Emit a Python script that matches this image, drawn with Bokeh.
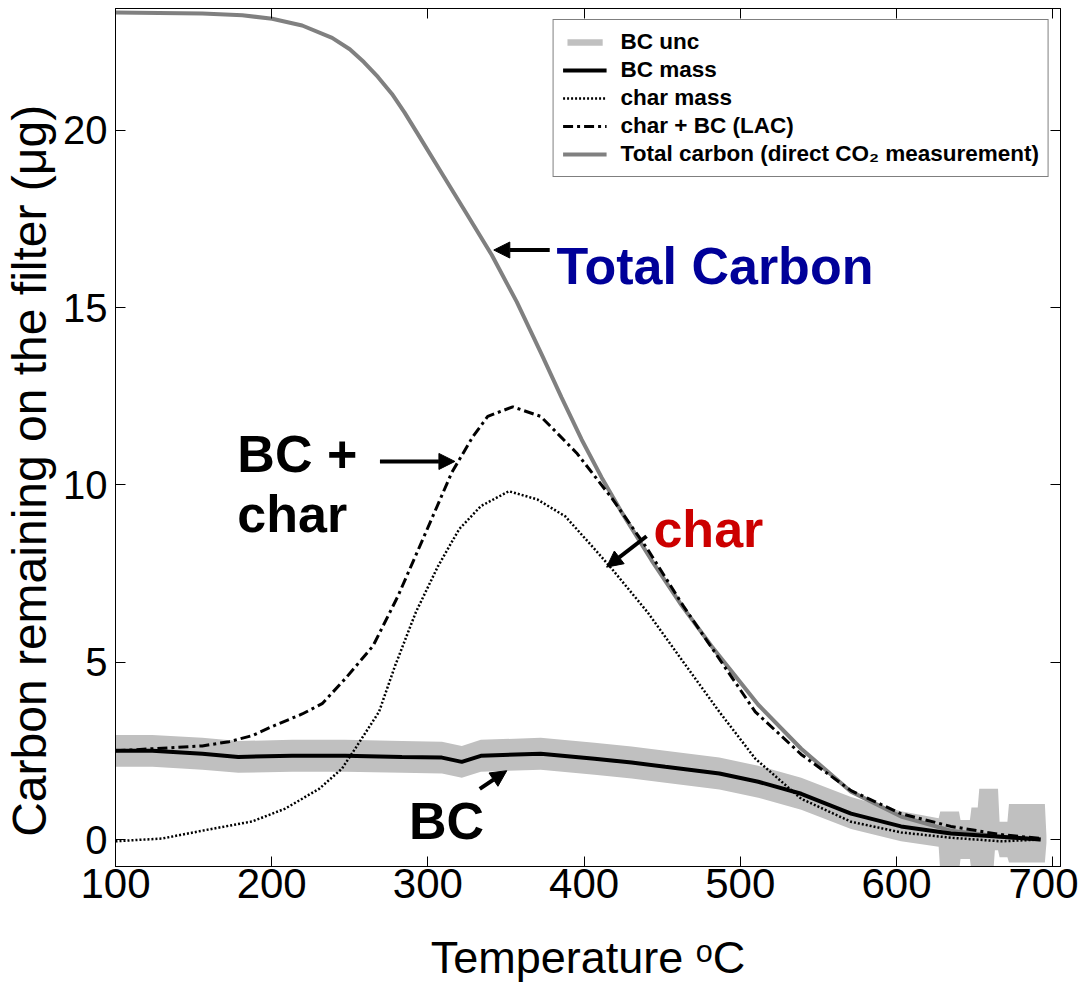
from bokeh.plotting import figure
from bokeh.models import (Range1d, LinearAxis, Legend, LegendItem, Label, Arrow,
                          NormalHead, FixedTicker)
from bokeh.embed import file_html
from bokeh.resources import INLINE

# ---------------- data ----------------
x_ticks = [100, 200, 300, 400, 500, 600, 700]
y_ticks = [0, 5, 10, 15, 20]

temp_total = [100, 155.6, 181.2, 200.3, 219.5, 238.7, 250.0, 259.0, 268.0, 277.0, 285.0,
              293.0, 309.0, 325.0, 340.9, 356.9, 372.9, 385.6, 398.4, 411.2, 424.0,
              443.1, 462.3, 481.5, 511.5, 539.0, 570.9, 602.9, 634.8, 666.8, 692.3]
total_carbon = [23.32, 23.29, 23.24, 23.14, 22.95, 22.6, 22.28, 21.92, 21.5, 21.02, 20.5,
                19.93, 18.78, 17.63, 16.48, 15.16, 13.67, 12.46, 11.28, 10.21, 9.23,
                7.88, 6.61, 5.46, 3.80, 2.56, 1.35, 0.65, 0.25, 0.08, 0.0]

temp_char = [100, 130, 155.6, 187.5, 208.6, 230.4, 245, 253.4, 268.7, 279, 292.3,
             306.4, 320, 333.9, 351.8, 370, 388, 406.7, 418, 440.6, 463.6, 486.6,
             509.6, 539, 571, 603, 635, 667, 692]
char_mass = [-0.05, 0.03, 0.25, 0.51, 0.87, 1.43, 2.0, 2.56, 3.6, 4.9, 6.41,
             7.7, 8.75, 9.4, 9.82, 9.59, 9.11, 8.19, 7.62, 6.41, 5.0, 3.6,
             2.28, 1.15, 0.5, 0.2, 0.05, -0.05, 0.0]

temp_lac = [100, 123.6, 155.6, 172.8, 187.5, 201.0, 219.5, 232.3, 247.0, 264.9,
            280.8, 296.8, 315.3, 328.8, 338.3, 354.3, 372.2, 395.2, 418.2, 440.6,
            463.6, 486.6, 509.6, 539.0, 570.9, 602.9, 634.8, 666.8, 692.3]
lac_mass = [2.5, 2.56, 2.64, 2.76, 2.93, 3.2, 3.54, 3.83, 4.53, 5.46,
            6.86, 8.47, 10.35, 11.36, 11.93, 12.2, 11.93, 10.9, 9.6, 8.19,
            6.58, 5.09, 3.6, 2.4, 1.38, 0.73, 0.37, 0.14, 0.03]

temp_bc = [100, 123.6, 155.6, 178.6, 213.1, 247.0, 283.4, 309.0, 321.7, 333.9,
           372.2, 406.7, 430.4, 452.0, 486.6, 511.5, 539.0, 570.9, 602.9, 634.8,
           666.8, 692.3]
bc_mass = [2.5, 2.5, 2.42, 2.33, 2.36, 2.36, 2.33, 2.31, 2.19, 2.36,
           2.42, 2.28, 2.17, 2.05, 1.86, 1.63, 1.29, 0.73, 0.37, 0.17,
           0.08, 0.0]

temp_unc = [100, 123.6, 155.6, 178.6, 213.1, 247.0, 283.4, 309.0, 321.7, 333.9,
            372.2, 406.7, 430.4, 452.0, 486.6, 511.5, 539.0, 570.9, 602.9, 627,
            628, 640, 641, 647, 648, 652, 653, 662, 663, 665,
            666, 671, 672, 695, 696]
unc_low = [2.05, 2.05, 1.97, 1.88, 1.91, 1.91, 1.88, 1.86, 1.74, 1.91,
           1.97, 1.83, 1.72, 1.6, 1.41, 1.18, 0.84, 0.3, -0.05, -0.2,
           -0.9, -0.9, -0.55, -0.55, -0.9, -0.9, -0.9, -0.9, -0.3, -0.3,
           -0.5, -0.5, -0.65, -0.65, -0.1]
unc_high = [2.95, 2.95, 2.87, 2.78, 2.81, 2.81, 2.78, 2.76, 2.64, 2.81,
            2.87, 2.73, 2.62, 2.5, 2.31, 2.08, 1.74, 1.2, 0.8, 0.6,
            0.79, 0.79, 0.55, 0.55, 0.9, 0.9, 1.43, 1.43, 1.43, 1.43,
            0.5, 0.5, 1.0, 1.0, 0.1]

series_labels = ["BC unc", "BC mass", "char mass", "char + BC (LAC)",
                 "Total carbon (direct CO\u2082 measurement)"]

# ---------------- figure ----------------
FONT = "Liberation Sans"

p = figure(width=1078, height=985, x_range=Range1d(100, 705), y_range=Range1d(-0.76, 23.43),
           output_backend="svg", toolbar_location=None,
           min_border_left=113, min_border_right=18, min_border_top=8, min_border_bottom=117)
p.xgrid.visible = False
p.ygrid.visible = False
p.outline_line_color = "black"
p.background_fill_color = "white"
p.border_fill_color = "white"

for ax in (p.xaxis[0], p.yaxis[0]):
    ax.major_tick_in = 10
    ax.major_tick_out = 0
    ax.minor_tick_in = 0
    ax.minor_tick_out = 0
    ax.axis_line_color = "black"
    ax.major_tick_line_color = "black"
    ax.major_label_text_color = "black"
    ax.axis_label_text_color = "black"
    ax.axis_label_text_font_style = "normal"

p.xaxis.ticker = FixedTicker(ticks=x_ticks)
p.yaxis.ticker = FixedTicker(ticks=y_ticks)
p.xaxis.major_label_text_font = FONT
p.xaxis.major_label_text_font_size = "42px"
p.xaxis.major_label_standoff = 2
p.xaxis.axis_label = "Temperature \u1d52C"
p.xaxis.axis_label_text_font = "Liberation Sans, DejaVu Sans"
p.xaxis.axis_label_text_font_size = "45px"
p.xaxis.axis_label_standoff = 31

p.yaxis.major_label_text_font = FONT
p.yaxis.major_label_text_font_size = "40px"
p.yaxis.major_label_standoff = 8
p.yaxis.axis_label = "Carbon remaining on the filter (\u03bcg)" + "\u00a0" * 5
p.yaxis.axis_label_text_font = FONT
p.yaxis.axis_label_text_font_size = "48px"
p.yaxis.axis_label_standoff = 4

top = LinearAxis(ticker=FixedTicker(ticks=x_ticks), major_tick_in=10, major_tick_out=0,
                 minor_tick_in=0, minor_tick_out=0, major_label_text_font_size="0px",
                 major_label_text_color=None, major_label_standoff=0, axis_label_standoff=0)
right = LinearAxis(ticker=FixedTicker(ticks=y_ticks), major_tick_in=10, major_tick_out=0,
                   minor_tick_in=0, minor_tick_out=0, major_label_text_font_size="0px",
                   major_label_text_color=None, major_label_standoff=0, axis_label_standoff=0)
p.add_layout(top, "above")
p.add_layout(right, "right")

# ---------------- series ----------------
band = p.varea(x=temp_unc, y1=unc_low, y2=unc_high, fill_color="#c0c0c0", fill_alpha=1.0)
tot = p.line(x=temp_total, y=total_carbon, line_color="#808080", line_width=4)
chr_ = p.line(x=temp_char, y=char_mass, line_color="black", line_width=2.5, line_dash="2 2")
lac = p.line(x=temp_lac, y=lac_mass, line_color="black", line_width=3, line_dash="10 4 3 4")
bc = p.line(x=temp_bc, y=bc_mass, line_color="black", line_width=4)

legend = Legend(items=[
    LegendItem(label=series_labels[0], renderers=[band]),
    LegendItem(label=series_labels[1], renderers=[bc]),
    LegendItem(label=series_labels[2], renderers=[chr_]),
    LegendItem(label=series_labels[3], renderers=[lac]),
    LegendItem(label=series_labels[4], renderers=[tot]),
], location="top_right", margin=11)
legend.label_text_font = FONT
legend.label_text_font_size = "22.5px"
legend.label_text_font_style = "bold"
legend.label_text_color = "black"
legend.glyph_width = 44
legend.glyph_height = 8
legend.label_height = 20
legend.spacing = 2
legend.padding = 9
legend.label_standoff = 14
legend.border_line_color = "black"
legend.border_line_width = 1
legend.background_fill_alpha = 1.0
p.add_layout(legend)

# ---------------- annotations ----------------
def lab(x, y, text, color):
    p.add_layout(Label(x=x, y=y, text=text, text_font=FONT, text_font_size="52px",
                       text_font_style="bold", text_color=color, text_baseline="alphabetic"))

def arr(x0, y0, x1, y1):
    p.add_layout(Arrow(end=NormalHead(size=16, fill_color="black", line_color="black"),
                       x_start=x0, y_start=y0, x_end=x1, y_end=y1,
                       line_color="black", line_width=4))

lab(382.4, 16.17, "Total Carbon", "#000099")
arr(378.0, 16.62, 342.2, 16.62)
lab(178.0, 10.86, "BC +", "black")
lab(178.0, 9.17, "char", "black")
arr(269.3, 10.66, 317.3, 10.66)
lab(444.4, 8.75, "char", "#cc0000")
arr(440.0, 8.55, 414.4, 7.68)
lab(287.9, 0.51, "BC", "black")
arr(333.2, 1.43, 350.5, 1.94)

open("out.html", "w").write(file_html(p, INLINE))
